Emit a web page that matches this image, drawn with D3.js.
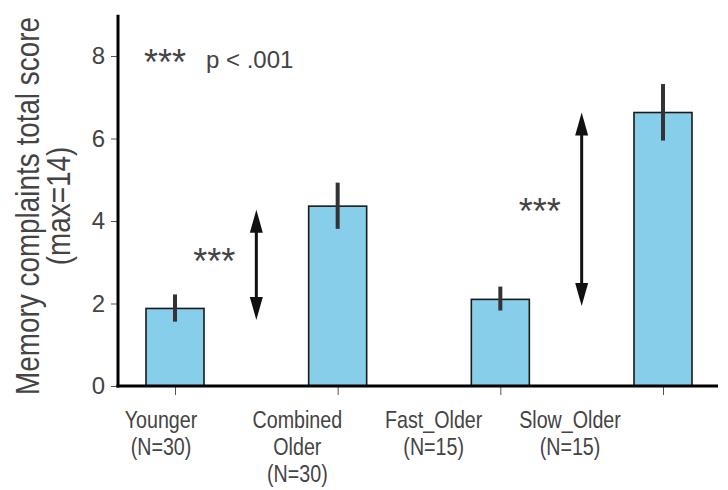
<!DOCTYPE html>
<html>
<head>
<meta charset="utf-8">
<script src="https://cdn.jsdelivr.net/npm/d3@7"></script>
<style>
  body { margin: 0; background: #fff; }
  svg { display: block; }
  .tick-label { font-family: "Liberation Sans", Arial, sans-serif; font-size: 24px; fill: #444; }
  .cat-label { font-family: "Liberation Sans", Arial, sans-serif; font-size: 24px; fill: #444; }
  .y-title { font-family: "Liberation Sans", Arial, sans-serif; font-size: 34px; fill: #444; }
  .stars { font-family: "Liberation Sans", Arial, sans-serif; fill: #444; }
</style>
</head>
<body>
<svg id="chart" width="728" height="490"></svg>
<script>
const groups = ["Younger", "Combined Older", "Fast_Older", "Slow_Older"];
const groupLabels = [
  ["Younger", "(N=30)"],
  ["Combined", "Older", "(N=30)"],
  ["Fast_Older", "(N=15)"],
  ["Slow_Older", "(N=15)"],
];
const means = [1.88, 4.36, 2.1, 6.63];
const errLow = [1.56, 3.81, 1.83, 5.95];
const errHigh = [2.22, 4.93, 2.41, 7.32];
const yTicks = [0, 2, 4, 6, 8];

// significance arrows between pairs of groups (value space)
const comparisons = [
  { from: "Younger", to: "Combined Older", top: 4.27, bottom: 1.6, labelAt: 3.05 },
  { from: "Fast_Older", to: "Slow_Older", top: 6.63, bottom: 1.94, labelAt: 4.27 },
];

const data = groups.map((g, i) => ({
  group: g,
  lines: groupLabels[i],
  mean: means[i],
  lo: errLow[i],
  hi: errHigh[i],
}));

const svg = d3.select("#chart");
const axisLeftX = 118;
const axisRightX = 718;
const narrow = 0.82; // labels in the original use a condensed face

const x = d3.scalePoint().domain(groups).range([175, 663]);
const xLabel = d3.scalePoint().domain(groups).range([161, 570]);
const y = d3.scaleLinear().domain([0, 9]).range([386, 14.75]);
const barWidth = 58;

// bars
svg.append("g")
  .selectAll("rect")
  .data(data)
  .join("rect")
  .attr("x", (d) => x(d.group) - barWidth / 2)
  .attr("y", (d) => y(d.mean))
  .attr("width", barWidth)
  .attr("height", (d) => y(0) - y(d.mean))
  .attr("fill", "#87ceeb")
  .attr("stroke", "#1a1a1a")
  .attr("stroke-width", 1.6);

// error bars
svg.append("g")
  .selectAll("line")
  .data(data)
  .join("line")
  .attr("x1", (d) => x(d.group))
  .attr("x2", (d) => x(d.group))
  .attr("y1", (d) => y(d.hi))
  .attr("y2", (d) => y(d.lo))
  .attr("stroke", "#333")
  .attr("stroke-width", 4);

// y axis
const yAxis = svg.append("g")
  .attr("transform", `translate(${axisLeftX},0)`)
  .call(d3.axisLeft(y).tickValues(yTicks).tickSize(7).tickPadding(6));
yAxis.select(".domain").remove();
yAxis.selectAll(".tick line").attr("stroke", "#555").attr("stroke-width", 1);
yAxis.selectAll(".tick text").attr("class", "tick-label").attr("font-size", null).attr("font-family", null).attr("fill", null);
yAxis.append("line")
  .attr("x1", 0).attr("x2", 0)
  .attr("y1", y(9)).attr("y2", y(0) + 1.5)
  .attr("stroke", "#000").attr("stroke-width", 3);

// x axis
const xAxis = svg.append("g")
  .attr("transform", `translate(0,${y(0)})`)
  .call(d3.axisBottom(x).tickSize(9).tickFormat(""));
xAxis.select(".domain").remove();
xAxis.selectAll(".tick line").attr("stroke", "#555").attr("stroke-width", 1);
xAxis.append("line")
  .attr("x1", axisLeftX - 1.5).attr("x2", axisRightX)
  .attr("y1", 0).attr("y2", 0)
  .attr("stroke", "#000").attr("stroke-width", 3);

// category labels
const catText = svg.append("g")
  .selectAll("text")
  .data(data)
  .join("text")
  .attr("class", "cat-label")
  .attr("text-anchor", "middle")
  .attr("transform", (d) => `translate(${xLabel(d.group)},428) scale(${narrow},1)`);
catText.selectAll("tspan")
  .data((d) => d.lines)
  .join("tspan")
  .attr("x", 0)
  .attr("dy", (d, i) => (i === 0 ? 0 : 27))
  .text((d) => d);

// y title
const yTitle = svg.append("text")
  .attr("class", "y-title")
  .attr("text-anchor", "middle")
  .attr("transform", `translate(0,206) rotate(-90) scale(${narrow},1)`);
yTitle.append("tspan").attr("x", 0).attr("y", 39).text("Memory complaints total score");
yTitle.append("tspan").attr("x", 0).attr("y", 70).text("(max=14)");

// significance arrows
const arrowColor = "#111";
const headLen = 23;
const headHalf = 6.5;
const arr = svg.append("g");
comparisons.forEach((c) => {
  const ax = (x(c.from) + x(c.to)) / 2;
  const yt = y(c.top);
  const yb = y(c.bottom);
  arr.append("line")
    .attr("x1", ax).attr("x2", ax)
    .attr("y1", yt + headLen - 2).attr("y2", yb - headLen + 2)
    .attr("stroke", arrowColor).attr("stroke-width", 3);
  arr.append("path")
    .attr("d", `M${ax},${yt} L${ax + headHalf},${yt + headLen} L${ax - headHalf},${yt + headLen} Z`)
    .attr("fill", arrowColor);
  arr.append("path")
    .attr("d", `M${ax},${yb} L${ax + headHalf},${yb - headLen} L${ax - headHalf},${yb - headLen} Z`)
    .attr("fill", arrowColor);
  arr.append("text")
    .attr("class", "stars")
    .attr("x", ax - 42)
    .attr("y", y(c.labelAt) + 14)
    .attr("text-anchor", "middle")
    .attr("font-size", 36)
    .text("***");
});

// legend
svg.append("text")
  .attr("class", "stars")
  .attr("x", 165)
  .attr("y", 75)
  .attr("text-anchor", "middle")
  .attr("font-size", 36)
  .text("***");
svg.append("text")
  .attr("class", "tick-label")
  .attr("x", 206)
  .attr("y", 68)
  .text("p < .001");
</script>
</body>
</html>
